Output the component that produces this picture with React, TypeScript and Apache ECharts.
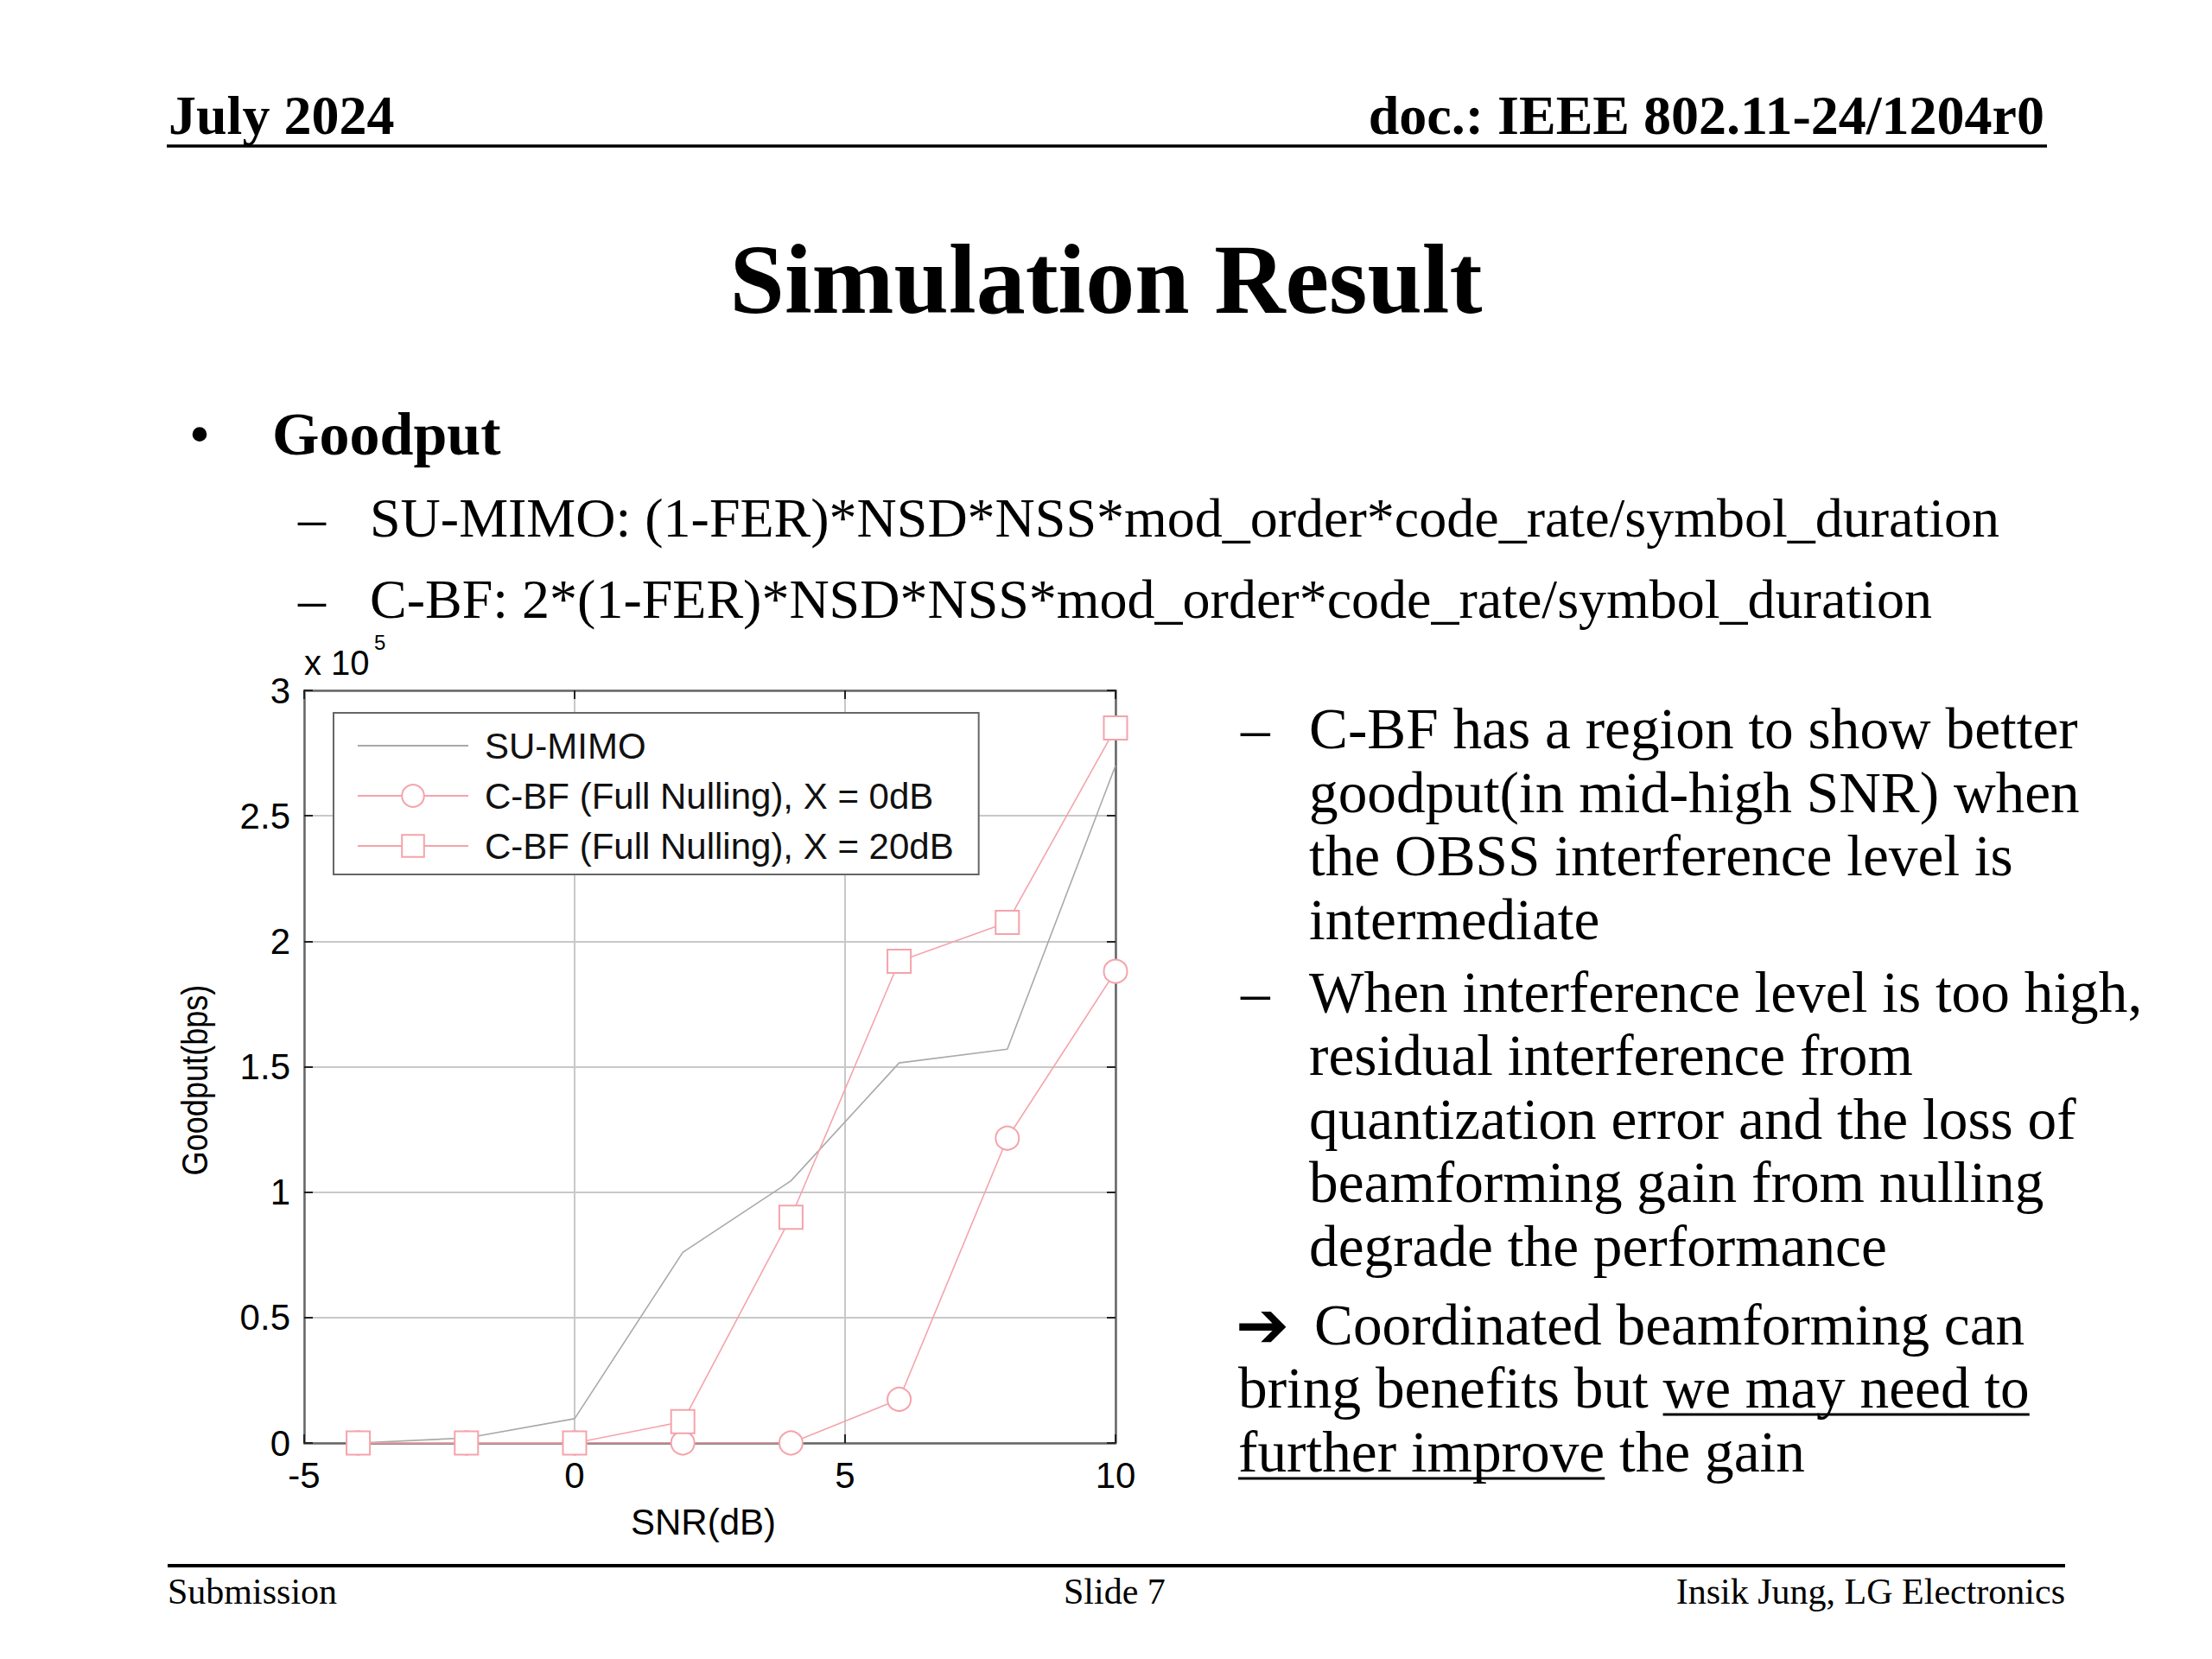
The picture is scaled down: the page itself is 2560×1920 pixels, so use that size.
import React, { useEffect, useRef } from "react";
import * as echarts from "echarts";

// ---- chart data (goodput in bps) ----
const snr = [-4, -2, 0, 2, 4, 6, 8, 10];
const suMimo = [0, 2000, 9700, 76000, 104500, 151500, 157000, 270000];
const cbf0dB = [0, 0, 0, 0, 0, 17400, 121500, 188000];
const cbf20dB = [0, 0, 0, 8500, 90000, 192000, 207500, 285000];
const seriesNames = ["SU-MIMO", "C-BF (Full Nulling), X = 0dB", "C-BF (Full Nulling), X = 20dB"];
const xAxisName = "SNR(dB)";
const yAxisName = "Goodput(bps)";

// ---- slide texts ----
const headerLeft = "July 2024";
const headerRight = "doc.: IEEE 802.11-24/1204r0";
const titleText = "Simulation Result";
const bulletMain = "Goodput";
const subBullets = [
  "SU-MIMO: (1-FER)*NSD*NSS*mod_order*code_rate/symbol_duration",
  "C-BF: 2*(1-FER)*NSD*NSS*mod_order*code_rate/symbol_duration",
];
const rightBullet1 = [
  "C-BF has a region to show better",
  "goodput(in mid-high SNR) when",
  "the OBSS interference level is",
  "intermediate",
];
const rightBullet2 = [
  "When interference level is too high,",
  "residual interference from",
  "quantization error and the loss of",
  "beamforming gain from nulling",
  "degrade the performance",
];
const conclusionA = "Coordinated beamforming can";
const conclusionB1 = "bring benefits but ";
const conclusionB2 = "we may need to";
const conclusionC1 = "further improve";
const conclusionC2 = " the gain";
const footerLeft = "Submission";
const footerMid = "Slide 7";
const footerRight = "Insik Jung, LG Electronics";

const SERIF = "'Liberation Serif', 'Times New Roman', serif";
const SANS = "'Liberation Sans', Arial, Helvetica, sans-serif";
const GRAY = "#a9a9a9";
const PINK = "#f5a3ab";
const RF = 67.3; // right column font size

function txt(text: string, x: number, baseline: number, size: number, opts: any = {}) {
  const k = opts.family === SANS ? 0.3465 : 0.3375;
  return {
    type: "text",
    x,
    y: baseline - k * size,
    silent: true,
    style: {
      text,
      fontSize: size,
      fontFamily: opts.family || SERIF,
      fontWeight: opts.weight || "normal",
      fill: "#000",
      align: opts.align || "left",
      verticalAlign: "middle",
    },
  };
}

export default function App() {
  const ref = useRef<HTMLDivElement>(null);
  useEffect(() => {
    if (!ref.current) return;
    const chart = echarts.init(ref.current, undefined, { renderer: "svg" });

    const ctx = document.createElement("canvas").getContext("2d")!;
    ctx.font = RF + "px 'Liberation Serif'";
    const wB1 = ctx.measureText(conclusionB1).width;
    const wB2 = ctx.measureText(conclusionB2).width;
    const wC1 = ctx.measureText(conclusionC1).width;

    const elements: any[] = [];
    // header
    elements.push(txt(headerLeft, 195, 155, 64, { weight: "bold" }));
    elements.push(txt(headerRight, 2366, 155, 64, { weight: "bold", align: "right" }));
    elements.push({ type: "line", silent: true, shape: { x1: 193, y1: 169, x2: 2369, y2: 169 }, style: { stroke: "#000", lineWidth: 3.5 } });
    // title
    elements.push(txt(titleText, 1280, 362, 114, { weight: "bold", align: "center" }));
    // bullets
    elements.push(txt("•", 231, 526, 70, { align: "center" }));
    elements.push(txt(bulletMain, 315, 526, 70, { weight: "bold" }));
    const subBase = [621, 715];
    subBullets.forEach((s, i) => {
      elements.push(txt("–", 345, subBase[i], 64));
      elements.push(txt(s, 428, subBase[i], 64));
    });
    // right column
    const b1Base = [866, 940, 1013, 1087];
    rightBullet1.forEach((s, i) => elements.push(txt(s, 1515, b1Base[i], RF)));
    elements.push(txt("–", 1436, b1Base[0], RF));
    const b2Base = [1171, 1244, 1318, 1391, 1465];
    rightBullet2.forEach((s, i) => elements.push(txt(s, 1515, b2Base[i], RF)));
    elements.push(txt("–", 1436, b2Base[0], RF));
    elements.push(txt("➔", 1430, 1558, 74, { family: "'DejaVu Sans', sans-serif", weight: "bold" }));
    elements.push(txt(conclusionA, 1521, 1556, RF));
    elements.push(txt(conclusionB1 + conclusionB2, 1433, 1629, RF));
    elements.push({ type: "line", silent: true, shape: { x1: 1433 + wB1, y1: 1637, x2: 1433 + wB1 + wB2, y2: 1637 }, style: { stroke: "#000", lineWidth: 3 } });
    elements.push(txt(conclusionC1 + conclusionC2, 1433, 1703, RF));
    elements.push({ type: "line", silent: true, shape: { x1: 1433, y1: 1711, x2: 1433 + wC1, y2: 1711 }, style: { stroke: "#000", lineWidth: 3 } });
    // footer
    elements.push({ type: "line", silent: true, shape: { x1: 194, y1: 1812, x2: 2390, y2: 1812 }, style: { stroke: "#000", lineWidth: 4 } });
    elements.push(txt(footerLeft, 194, 1856, 42));
    elements.push(txt(footerMid, 1231, 1856, 42));
    elements.push(txt(footerRight, 2390, 1856, 42, { align: "right" }));
    // axis names and exponent
    elements.push(txt(xAxisName, 814, 1776, 42, { family: SANS, align: "center" }));
    elements.push({
      type: "text",
      x: 226,
      y: 1250,
      rotation: Math.PI / 2,
      scaleX: 0.86,
      silent: true,
      style: { text: yAxisName, fontSize: 42, fontFamily: SANS, fill: "#000", align: "center", verticalAlign: "middle" },
    });
    elements.push(txt("x 10", 352, 781, 40, { family: SANS }));
    elements.push(txt("5", 433, 752, 24, { family: SANS }));

    const axisLine = { show: true, onZero: false, lineStyle: { color: "#666", width: 2.5 } };
    const axisTick = { show: true, inside: true, length: 10, lineStyle: { color: "#222", width: 2 } };
    const axisLabel = { fontSize: 42, fontFamily: SANS, color: "#000", margin: 16 };
    const splitLine = { show: true, lineStyle: { color: "#c8c8c8", width: 2 } };

    const mk = (arr: number[]) => snr.map((x, i) => [x, arr[i]]);

    chart.setOption({
      animation: false,
      backgroundColor: "#fff",
      grid: { left: 352, top: 799, width: 939, height: 871, containLabel: false },
      xAxis: [
        { type: "value", min: -5, max: 10, interval: 5, position: "bottom", axisLine, axisTick, axisLabel, splitLine },
        { type: "value", min: -5, max: 10, interval: 5, position: "top", axisLine, axisTick, axisLabel: { show: false }, splitLine: { show: false } },
      ],
      yAxis: [
        {
          type: "value", min: 0, max: 300000, interval: 50000, position: "left", axisLine, axisTick, splitLine,
          axisLabel: { ...axisLabel, formatter: (v: number) => String(v / 1e5) },
        },
        { type: "value", min: 0, max: 300000, interval: 50000, position: "right", axisLine, axisTick, axisLabel: { show: false }, splitLine: { show: false } },
      ],
      legend: {
        orient: "vertical",
        left: 386,
        top: 825,
        padding: [17, 29, 12, 27],
        borderColor: "#666",
        borderWidth: 2,
        backgroundColor: "#fff",
        itemWidth: 128,
        itemHeight: 32,
        itemGap: 16,
        selectedMode: false,
        textStyle: { fontSize: 42, fontFamily: SANS, color: "#111", lineHeight: 42, padding: [0, 0, 0, 14] },
        data: [
          { name: seriesNames[0], itemStyle: { opacity: 0 } },
          { name: seriesNames[1] },
          { name: seriesNames[2] },
        ],
      },
      series: [
        {
          name: seriesNames[0], type: "line", data: mk(suMimo), symbol: "none",
          lineStyle: { color: GRAY, width: 1.6 }, itemStyle: { color: GRAY }, z: 2,
        },
        {
          name: seriesNames[1], type: "line", data: mk(cbf0dB), symbol: "emptyCircle", symbolSize: 27,
          lineStyle: { color: PINK, width: 1.6 }, itemStyle: { color: PINK, borderColor: PINK, borderWidth: 1.6 }, z: 3,
        },
        {
          name: seriesNames[2], type: "line", data: mk(cbf20dB), symbol: "emptyRect", symbolSize: 27,
          lineStyle: { color: PINK, width: 1.6 }, itemStyle: { color: PINK, borderColor: PINK, borderWidth: 1.6 }, z: 4,
        },
      ],
      graphic: { elements },
    });
    return () => chart.dispose();
  }, []);

  return <div ref={ref} style={{ position: "absolute", left: 0, top: 0, width: 2560, height: 1920, background: "#fff" }} />;
}
